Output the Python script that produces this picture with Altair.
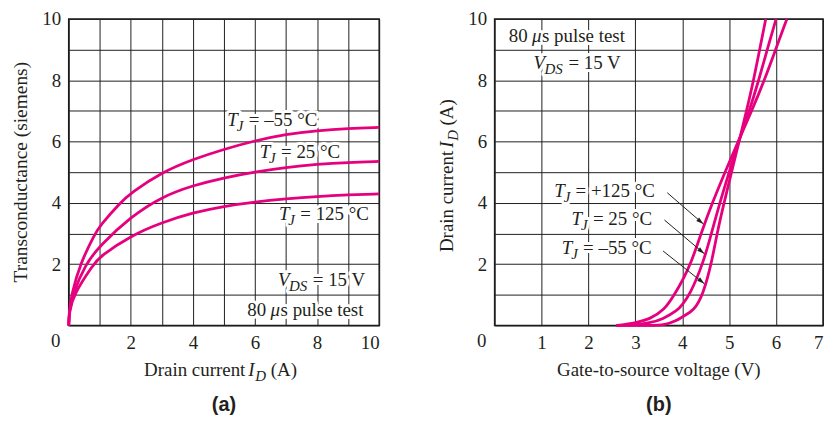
import altair as alt
import pandas as pd

# ---------------- data ----------------
# (a) Transconductance (S) vs drain current I_D (A)
a_m55_id = [0, 0.02, 0.09, 0.36, 0.85, 1.0, 1.66, 2, 3, 4, 5, 6, 7, 8, 9, 10]
a_m55_gm = [0, 0.5, 1, 2, 3, 3.25, 4, 4.32, 5.0, 5.42, 5.75, 6.03, 6.24, 6.36, 6.43, 6.46]
a_25_id = [0, 0.02, 0.12, 0.54, 1, 2, 3, 4, 5, 6, 7, 8, 9, 10]
a_25_gm = [0, 0.45, 1, 2, 2.6, 3.55, 4.2, 4.57, 4.82, 5.01, 5.16, 5.26, 5.32, 5.35]
a_125_id = [0, 0.02, 0.15, 0.8, 1, 2, 3, 4, 5, 6, 7, 8, 9, 10]
a_125_gm = [0, 0.45, 1, 2, 2.25, 2.93, 3.36, 3.68, 3.89, 4.03, 4.13, 4.21, 4.26, 4.29]

# (b) Drain current I_D (A) vs gate-to-source voltage (V)
b_m55_vgs = [2.6, 3.3, 3.65, 3.87, 4.0, 4.26, 4.44, 4.62, 4.74, 4.89, 5.05, 5.21, 5.37, 5.52, 5.65, 5.78]
b_m55_id = [0, 0, 0.02, 0.15, 0.28, 0.5, 1, 2, 3, 4, 5, 6, 7, 8, 9, 10]
b_25_vgs = [2.6, 3.0, 3.3, 3.58, 3.91, 4.0, 4.16, 4.44, 4.62, 4.80, 5.0, 5.2, 5.43, 5.63, 5.81, 6.0]
b_25_id = [0, 0.02, 0.08, 0.2, 0.5, 0.68, 1, 2, 3, 4, 5, 6, 7, 8, 9, 10]
b_125_vgs = [2.6, 3.0, 3.3, 3.62, 3.83, 4.0, 4.18, 4.40, 4.64, 4.91, 5.19, 5.48, 5.75, 5.99, 6.23]
b_125_id = [0, 0.08, 0.2, 0.5, 1, 1.45, 2, 3, 4, 5, 6, 7, 8, 9, 10]

# axis ticks
a_ticks = list(range(0, 11))
b_x_ticks = list(range(0, 8))
b_y_ticks = list(range(0, 11))

# annotations (anchor = left end / baseline, in data units)
a_tj_x = [5.11, 6.15, 6.77]
a_tj_y = [6.52, 5.45, 3.44]
a_tj_text = ["= \u201355 \u00b0C", "= 25 \u00b0C", "= 125 \u00b0C"]
a_vds_x = [6.74]
a_vds_y = [1.30]
a_pulse_x = [5.75]
a_pulse_y = [0.31]

b_tj_x = [1.27, 1.64, 1.43]
b_tj_y = [4.19, 3.28, 2.32]
b_tj_text = ["= +125 \u00b0C", "= 25 \u00b0C", "= \u201355 \u00b0C"]
b_vds_x = [0.83]
b_vds_y = [8.36]
b_pulse_x = [0.30]
b_pulse_y = [9.26]

b_arrow_x0 = [3.68, 3.62, 3.59]
b_arrow_y0 = [4.33, 3.44, 2.43]
b_arrow_x1 = [4.45, 4.47, 4.47]
b_arrow_y1 = [3.31, 2.34, 1.36]

VDS_TEXT = "= 15 V"
PULSE_NUM, PULSE_MU, PULSE_REST = "80", "\u03bc", "s pulse test"

# ---------------- style ----------------
SERIF = "Liberation Serif"
SANS = "Liberation Sans"
INK = "#231f20"
MAG = "#e6007e"
FS = 19
SUB = 15
W_A, W_B, H = 312, 330, 308


def series_df(pairs):
    rows = []
    for name, xs, ys in pairs:
        for i, (x, y) in enumerate(zip(xs, ys)):
            rows.append({"s": name, "i": i, "x": x, "y": y})
    return pd.DataFrame(rows)


def axis(values, expr):
    return alt.Axis(values=values, labelExpr=expr, grid=True, ticks=False, domain=False,
                    title=None, labelPadding=8, labelOverlap=False)


even_expr = "datum.value % 2 == 0 && datum.value > 0 ? datum.label : ''"
pos_expr = "datum.value > 0 ? datum.label : ''"


def enc_xy(xdom, ydom, xax, yax):
    X = alt.X("x:Q", scale=alt.Scale(domain=xdom, nice=False, zero=False), axis=xax)
    Y = alt.Y("y:Q", scale=alt.Scale(domain=ydom, nice=False, zero=False), axis=yax)
    return X, Y


def text_pieces(df, X, Y, pieces):
    halos, texts = [], []
    for col, dx, dy, size, style in pieces:
        base = alt.Chart(df).encode(x=X, y=Y, text=f"{col}:N")
        kw = dict(align="left", baseline="alphabetic", dx=dx, dy=dy, font=SERIF,
                  fontSize=size, fontStyle=style)
        halos.append(base.mark_text(fill="white", stroke="white", strokeWidth=6,
                                    strokeJoin="round", **kw))
        texts.append(base.mark_text(color=INK, **kw))
    return halos, texts


def tj_layers(xs, ys, rest, X, Y):
    df = pd.DataFrame({"x": xs, "y": ys, "a": ["T"] * len(xs), "b": ["J"] * len(xs), "c": rest})
    return text_pieces(df, X, Y, [("a", 0, 0, FS, "italic"), ("b", 9.5, 5, SUB, "italic"),
                                  ("c", 21.5, 0, FS, "normal")])


def vds_layers(xs, ys, X, Y):
    df = pd.DataFrame({"x": xs, "y": ys, "a": ["V"], "b": ["DS"], "c": [VDS_TEXT]})
    return text_pieces(df, X, Y, [("a", 0, 0, FS, "italic"), ("b", 11, 5, SUB, "italic"),
                                  ("c", 35, 0, FS, "normal")])


def pulse_layers(xs, ys, X, Y):
    df = pd.DataFrame({"x": xs, "y": ys, "a": [PULSE_NUM], "b": [PULSE_MU], "c": [PULSE_REST]})
    return text_pieces(df, X, Y, [("a", 0, 0, FS, "normal"), ("b", 23.5, 0, FS, "italic"),
                                  ("c", 33.5, 0, FS, "normal")])


def id_title(cx, cy, angle):
    """'Drain current I_D (A)' built from pieces around anchor (cx, cy)."""
    df = pd.DataFrame({"a": ["Drain current"], "b": ["I"], "c": ["D"], "d": ["(A)"]})
    pieces = [("a", "right", 21.5, 0, FS, "normal"), ("b", "left", 24.5, 0, FS, "italic"),
              ("c", "left", 31.5, 5, SUB, "italic"), ("d", "left", 47, 0, FS, "normal")]
    out = []
    for col, al, dx, dy, size, style in pieces:
        kw = dict(align=al, baseline="alphabetic", dx=dx, dy=dy, font=SERIF, fontSize=size,
                  fontStyle=style, color=INK)
        if angle:
            kw["angle"] = angle
        out.append(alt.Chart(df).mark_text(**kw).encode(
            x=alt.value(cx), y=alt.value(cy), text=f"{col}:N"))
    return out


def plain_text(txt, cx, cy, angle=0, font=SERIF, size=FS, weight="normal"):
    kw = dict(align="center", baseline="alphabetic", font=font, fontSize=size,
              fontWeight=weight, color=INK)
    if angle:
        kw["angle"] = angle
    return alt.Chart(pd.DataFrame({"t": [txt]})).mark_text(**kw).encode(
        x=alt.value(cx), y=alt.value(cy), text="t:N")


def corner_zero(X, Y):
    return alt.Chart(pd.DataFrame({"x": [0], "y": [0], "t": ["0"]})).mark_text(
        align="center", baseline="middle", dx=-13, dy=16, font=SERIF, fontSize=FS, color=INK
    ).encode(x=X, y=Y, text="t:N")


def curve_layer(df, X, Y):
    return alt.Chart(df).mark_line(color=MAG, strokeWidth=2.8, interpolate="basis").encode(
        x=X, y=Y, detail="s:N", order="i:Q")


# ---------------- panel (a) ----------------
XA, YA = enc_xy([0, 10], [0, 10], axis(a_ticks, even_expr), axis(a_ticks, even_expr))
df_a = series_df([("-55", a_m55_id, a_m55_gm), ("25", a_25_id, a_25_gm),
                  ("125", a_125_id, a_125_gm)])
curves_a = curve_layer(df_a, XA, YA)

h1, t1 = tj_layers(a_tj_x, a_tj_y, a_tj_text, XA, YA)
h2, t2 = vds_layers(a_vds_x, a_vds_y, XA, YA)
h3, t3 = pulse_layers(a_pulse_x, a_pulse_y, XA, YA)

panel_a = alt.layer(
    curves_a, *h1, *h2, *h3, *t1, *t2, *t3, corner_zero(XA, YA),
    *id_title(W_A / 2, H + 51, 0),
    plain_text("Transconductance (siemens)", -42, H / 2, angle=270, size=19.5),
    plain_text("(a)", W_A / 2, H + 86, font=SANS, size=20, weight="bold"),
).properties(width=W_A, height=H)

# ---------------- panel (b) ----------------
XB, YB = enc_xy([0, 7], [0, 10], axis(b_x_ticks, pos_expr), axis(b_y_ticks, even_expr))
df_b = series_df([("-55", b_m55_vgs, b_m55_id), ("25", b_25_vgs, b_25_id),
                  ("125", b_125_vgs, b_125_id)])
curves_b = curve_layer(df_b, XB, YB)

g1, u1 = tj_layers(b_tj_x, b_tj_y, b_tj_text, XB, YB)
g2, u2 = vds_layers(b_vds_x, b_vds_y, XB, YB)
g3, u3 = pulse_layers(b_pulse_x, b_pulse_y, XB, YB)

arrows_df = pd.DataFrame({"x": b_arrow_x0, "y": b_arrow_y0, "x2": b_arrow_x1, "y2": b_arrow_y1})
arrow_lines = alt.Chart(arrows_df).mark_rule(color=INK, strokeWidth=1).encode(
    x=XB, y=YB, x2="x2:Q", y2="y2:Q")
heads_df = pd.DataFrame({"x": b_arrow_x1, "y": b_arrow_y1})
arrow_heads = alt.Chart(heads_df).mark_point(
    shape="M0,0 L-1,-0.3 L-1,0.3 Z", filled=True, opacity=1, color=INK, size=220, angle=40
).encode(x=XB, y=YB)

panel_b = alt.layer(
    curves_b, *g1, *g2, *g3, *u1, *u2, *u3, arrow_lines, arrow_heads, corner_zero(XB, YB),
    *id_title(-42, H / 2, 270),
    plain_text("Gate-to-source voltage (V)", W_B / 2, H + 51),
    plain_text("(b)", W_B / 2, H + 86, font=SANS, size=20, weight="bold"),
).properties(width=W_B, height=H)

chart = alt.hconcat(panel_a, panel_b, spacing=116, bounds="flush").properties(
    padding={"left": 2, "top": 0, "right": 0, "bottom": 0}
).configure_view(stroke="#1a1a1a", strokeWidth=1.5).configure_axis(
    labelFont=SERIF, labelFontSize=FS, labelColor=INK, gridColor="#1f1f1f",
    gridWidth=1, gridOpacity=1
)

chart.save("out.html", embed_options={"renderer": "svg", "actions": False})
